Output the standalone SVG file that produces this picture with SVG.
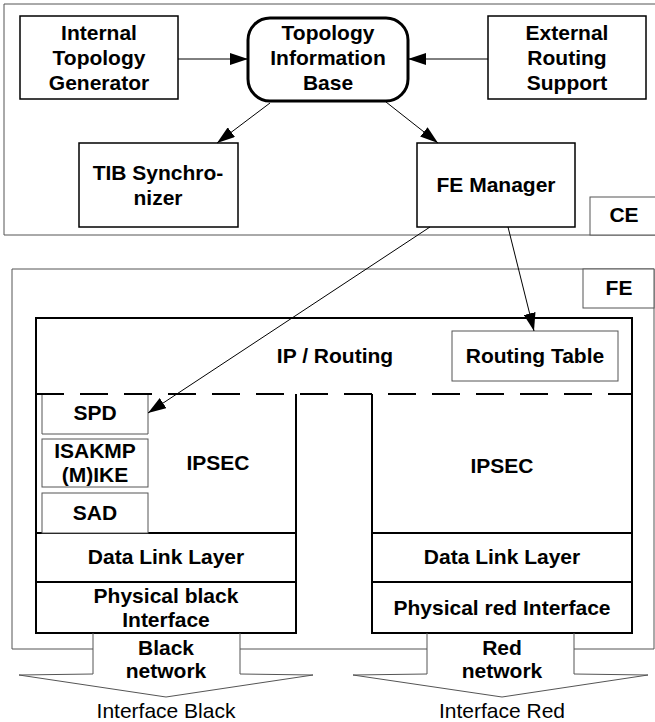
<svg xmlns="http://www.w3.org/2000/svg" width="655" height="722" viewBox="0 0 655 722">
<defs>
<style>
.t{font-family:"Liberation Sans",Arial,sans-serif;font-weight:bold;font-size:21px;fill:#000;text-anchor:middle}
.n{font-family:"Liberation Sans",Arial,sans-serif;font-size:21px;fill:#000;text-anchor:middle}
.box{fill:#fff;stroke:#000;stroke-width:1.5}
.gbox{fill:#fff;stroke:#555;stroke-width:1}
.gl{fill:none;stroke:#555;stroke-width:1}
.bl{fill:none;stroke:#000;stroke-width:2}
.con{fill:none;stroke:#000;stroke-width:1}
</style>
<marker id="ah" viewBox="0 0 18 12" refX="18" refY="6" markerWidth="18" markerHeight="12" markerUnits="userSpaceOnUse" orient="auto">
<path d="M0,0 L18,6 L0,12 z" fill="#000"/>
</marker>
</defs>
<rect width="655" height="722" fill="#fff"/>

<g id="CE">
<path class="gl" d="M655,4 H4 V235 H655"/>
<rect class="gbox" x="590" y="197" width="66" height="38"/>
<text class="t" x="624" y="222">CE</text>
</g>

<g id="ITG">
<rect class="box" x="20" y="16" width="158" height="83"/>
<text class="t" x="99" y="40">Internal</text>
<text class="t" x="99" y="65">Topology</text>
<text class="t" x="99" y="90">Generator</text>
</g>

<g id="TIB">
<rect x="248" y="18" width="160" height="83" rx="22" fill="#fff" stroke="#000" stroke-width="3"/>
<text class="t" x="328" y="40">Topology</text>
<text class="t" x="328" y="65">Information</text>
<text class="t" x="328" y="90">Base</text>
</g>

<g id="ERS">
<rect class="box" x="488" y="16" width="158" height="83"/>
<text class="t" x="567" y="40">External</text>
<text class="t" x="567" y="65">Routing</text>
<text class="t" x="567" y="90">Support</text>
</g>

<g id="TIBSync">
<rect class="box" x="79" y="143" width="159" height="84"/>
<text class="t" x="158" y="180">TIB Synchro-</text>
<text class="t" x="158" y="205">nizer</text>
</g>

<g id="FEManager">
<rect class="box" x="417" y="143" width="158" height="84"/>
<text class="t" x="496" y="192">FE Manager</text>
</g>

<g id="FE">
<path class="gl" d="M93,649 H12 V269 H654 V649 H574 M427,649 H240"/>
<rect class="gbox" x="583" y="269" width="71" height="39"/>
<text class="t" x="619" y="295">FE</text>
</g>

<g id="IPRouting">
<path class="bl" d="M36,394 V318 H632 V394"/>
<text class="t" x="335" y="363">IP / Routing</text>
</g>

<g id="RoutingTable">
<rect class="gbox" x="452" y="331" width="166" height="50"/>
<text class="t" x="535" y="363">Routing Table</text>
</g>

<g id="LeftStack">
<path class="bl" d="M36,394 V633 H296 V394"/>
<line class="bl" x1="36" y1="533" x2="296" y2="533"/>
<line class="bl" x1="36" y1="582" x2="296" y2="582"/>
<text class="t" x="218" y="470">IPSEC</text>
<text class="t" x="166" y="564">Data Link Layer</text>
<text class="t" x="166" y="603">Physical black</text>
<text class="t" x="166" y="627">Interface</text>
</g>

<g id="SPD">
<path class="gl" d="M42,394 V434 H148 V394"/>
<text class="t" x="95" y="420">SPD</text>
</g>
<g id="ISAKMP">
<rect class="gbox" x="42" y="439" width="106" height="48"/>
<text class="t" x="95" y="458">ISAKMP</text>
<text class="t" x="95" y="482">(M)IKE</text>
</g>
<g id="SAD">
<rect class="gbox" x="42" y="493" width="106" height="40"/>
<text class="t" x="95" y="520">SAD</text>
</g>

<g id="RightStack">
<path class="bl" d="M372,394 V633 H632 V394"/>
<line class="bl" x1="372" y1="533" x2="632" y2="533"/>
<line class="bl" x1="372" y1="582" x2="632" y2="582"/>
<text class="t" x="502" y="473">IPSEC</text>
<text class="t" x="502" y="564">Data Link Layer</text>
<text class="t" x="502" y="615">Physical red Interface</text>
</g>

<g id="Boundary">
<path d="M36,394 H632" fill="none" stroke="#000" stroke-width="2" stroke-dasharray="28 16"/>
</g>

<g id="BlackNetwork">
<path class="gl" d="M93,633 V674 L19,675 L166,697 L313,675 L240,674 V633" fill="#fff"/>
<text class="t" x="166" y="655">Black</text>
<text class="t" x="166" y="678">network</text>
<text class="n" x="166" y="718">Interface Black</text>
</g>

<g id="RedNetwork">
<path class="gl" d="M427,633 V674 L353,675 L502,697 L648,675 L574,674 V633" fill="#fff"/>
<text class="t" x="502" y="655">Red</text>
<text class="t" x="502" y="678">network</text>
<text class="n" x="502" y="718">Interface Red</text>
</g>

<g id="connectors">
<line class="con" x1="178" y1="59" x2="248" y2="59" marker-end="url(#ah)"/>
<line class="con" x1="488" y1="59" x2="408" y2="59" marker-end="url(#ah)"/>
<line class="con" x1="270" y1="103" x2="217" y2="143" marker-end="url(#ah)"/>
<line class="con" x1="386" y1="102" x2="438" y2="143" marker-end="url(#ah)"/>
<line class="con" x1="430" y1="227" x2="148" y2="413" marker-end="url(#ah)"/>
<line class="con" x1="508" y1="227" x2="534" y2="331" marker-end="url(#ah)"/>
</g>
</svg>
